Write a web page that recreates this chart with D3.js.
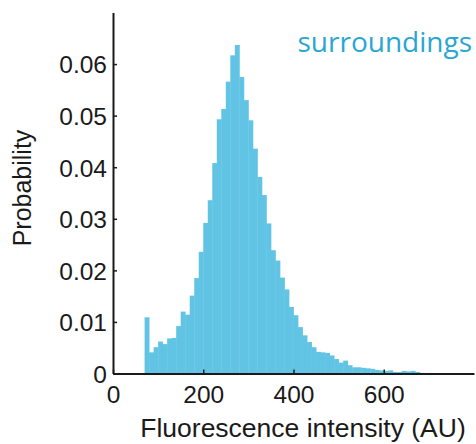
<!DOCTYPE html>
<html>
<head>
<meta charset="utf-8">
<script src="https://cdn.jsdelivr.net/npm/d3@7"></script>
<style>
  html, body { margin: 0; padding: 0; background: #fff; }
  svg { display: block; }
  .tick text { font-family: "Liberation Sans", Arial, sans-serif; }
</style>
</head>
<body>
<svg id="chart" width="476" height="444"></svg>
<script>
// Histogram of fluorescence intensity in the surroundings (10 AU bins from 70 AU)
const binStart = 70;
const binWidth = 10;
const probability = [
  0.0109, 0.0041, 0.0051, 0.0062, 0.0057, 0.0068, 0.0069, 0.0092, 0.0120, 0.0114,
  0.0151, 0.0185, 0.0236, 0.0292, 0.0336, 0.0408, 0.0493, 0.0513, 0.0566, 0.0617,
  0.0637, 0.0575, 0.0530, 0.0491, 0.0436, 0.0381, 0.0346, 0.0291, 0.0239, 0.0219,
  0.0186, 0.0163, 0.0129, 0.0113, 0.0090, 0.0074, 0.0061, 0.0051, 0.0042, 0.0041,
  0.0040, 0.0035, 0.0028, 0.0021, 0.0025, 0.0016, 0.0012, 0.0012, 0.0011, 0.0010,
  0.0009, 0.0007, 0.0006, 0.0005, 0.0006, 0.0003, 0.0003, 0.0005, 0.0004, 0.0005,
  0.0003
];
const xTicks = [0, 200, 400, 600];
const yTicks = [0, 0.01, 0.02, 0.03, 0.04, 0.05, 0.06];
const xTitle = "Fluorescence intensity (AU)";
const yTitle = "Probability";
const seriesLabel = "surroundings";

const bins = probability.map((p, i) => ({ lo: binStart + i * binWidth, hi: binStart + (i + 1) * binWidth, p }));

const svg = d3.select("#chart");
const x = d3.scaleLinear().domain([0, 800]).range([113, 474]);
const y = d3.scaleLinear().domain([0, 0.07]).range([373.5, 12.5]);

// bars
svg.append("g")
  .selectAll("rect")
  .data(bins)
  .join("rect")
  .attr("x", d => x(d.lo))
  .attr("y", d => y(d.p))
  .attr("width", d => x(d.hi) - x(d.lo) + 0.4)
  .attr("height", d => y(0) - y(d.p))
  .attr("fill", "#62C4E4");

// axes (MATLAB style: inward ticks)
const fmtY = v => v === 0 ? "0" : d3.format(".2f")(v);
const xAxis = svg.append("g")
  .attr("transform", `translate(0,${y(0)})`)
  .call(d3.axisBottom(x).tickValues(xTicks).tickSizeInner(-4).tickSizeOuter(0).tickPadding(12));
const yAxis = svg.append("g")
  .attr("transform", `translate(${x(0)},0)`)
  .call(d3.axisLeft(y).tickValues(yTicks).tickFormat(fmtY).tickSizeInner(-4).tickSizeOuter(0).tickPadding(6));

[xAxis, yAxis].forEach(g => {
  g.select(".domain").attr("stroke", "#1a1a1a").attr("stroke-width", 2);
  g.selectAll(".tick line").attr("stroke", "#1a1a1a").attr("stroke-width", 1.5);
  g.selectAll(".tick text").attr("fill", "#1a1a1a").attr("font-size", 24.5);
});
xAxis.selectAll(".tick text").attr("dy", "0.71em");
yAxis.selectAll(".tick text").attr("dy", "0.36em");

// axis titles
svg.append("text")
  .attr("x", 303).attr("y", 437)
  .attr("text-anchor", "middle")
  .attr("font-family", "Liberation Sans, Arial, sans-serif")
  .attr("font-size", 26.5)
  .attr("fill", "#1a1a1a")
  .text(xTitle);

svg.append("text")
  .attr("transform", "translate(31,188) rotate(-90)")
  .attr("text-anchor", "middle")
  .attr("font-family", "Liberation Sans, Arial, sans-serif")
  .attr("font-size", 25)
  .attr("fill", "#1a1a1a")
  .text(yTitle);

// series label
svg.append("text")
  .attr("x", 472).attr("y", 52)
  .attr("text-anchor", "end")
  .attr("font-family", "Open Sans, Noto Sans, sans-serif")
  .attr("font-size", 28)
  .attr("fill", "#29A6D2")
  .text(seriesLabel);
</script>
</body>
</html>
